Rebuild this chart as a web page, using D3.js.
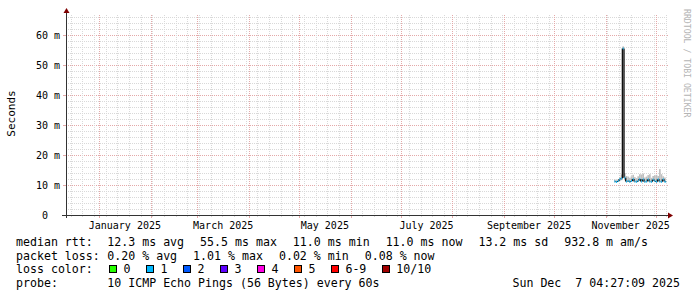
<!DOCTYPE html>
<html>
<head>
<meta charset="utf-8">
<script src="https://cdn.jsdelivr.net/npm/d3@7"></script>
<style>
body { margin: 0; background: #fff; }
text { font-family: "DejaVu Sans Mono", monospace; white-space: pre; }
</style>
</head>
<body>
<div id="chart"></div>
<script>
// ---- data (ms) ----
var firstDay = Date.UTC(2025, 10, 6);   // Nov 6 2025, one value per day
var medianRtt = [11.2, 11.0, 11.3, 11.9, 12.2, 55.5, 12.4, 11.2, 11.4, 11.1, 11.3, 12.0, 11.2, 11.1, 11.4, 12.0,
                 11.2, 11.9, 11.1, 11.2, 11.9, 11.2, 11.1, 11.8, 11.3, 11.1, 11.9, 11.2, 11.1, 11.9, 11.2, 11.0];
var smokeMin  = [10.9, 10.8, 11.0, 11.3, 11.6, 12.3, 11.6, 10.9, 11.0, 10.8, 11.0, 11.4, 10.9, 10.8, 11.0, 11.5,
                 10.9, 11.1, 10.8, 10.9, 11.4, 10.9, 10.8, 11.3, 11.0, 10.8, 11.3, 10.9, 10.8, 11.4, 10.9, 10.8];
var smokeMax  = [11.8, 11.6, 11.9, 12.6, 13.5, 56.2, 14.0, 13.0, 12.8, 12.4, 12.9, 13.4, 12.6, 12.3, 12.9, 13.6,
                 13.5, 13.8, 12.5, 12.8, 13.3, 13.6, 12.4, 13.0, 13.2, 13.4, 13.0, 15.3, 13.6, 12.9, 12.5, 12.2];

var yTicks = [0, 10, 20, 30, 40, 50, 60];
var labelMonths = [Date.UTC(2025, 0, 1), Date.UTC(2025, 2, 1), Date.UTC(2025, 4, 1),
                   Date.UTC(2025, 6, 1), Date.UTC(2025, 8, 1), Date.UTC(2025, 10, 1)];

var rttStats  = ["12.3 ms avg", "55.5 ms max", "11.0 ms min", "11.0 ms now", "13.2 ms sd", "932.8 m am/s"];
var lossStats = ["0.20 % avg", "1.01 % max", "0.02 % min", "0.08 % now"];
var lossLabels = ["0", "1", "2", "3", "4", "5", "6-9", "10/10"];
var lossColors = ["#26ff00", "#00b8ff", "#0059ff", "#5e00ff", "#ff00e4", "#ff5500", "#ff0000", "#a10000"];
var probeText = "10 ICMP Echo Pings (56 Bytes) every 60s";
var stampText = "Sun Dec  7 04:27:09 2025";

// ---- layout ----
var W = 697, H = 297;
var X0 = 66, X1 = 666, Y0 = 215, Y1 = 15;
var DAY = 864e5;
var tEnd = new Date(Date.UTC(2025, 11, 7, 4, 27, 9));
var tStart = new Date(+tEnd - 360 * DAY);

var x = d3.scaleUtc().domain([tStart, tEnd]).range([X0, X1]);
var y = d3.scaleLinear().domain([0, 200 / 3]).range([Y0, Y1]);

var gridCol = "#d9d9d9", mgridCol = "#e4a9a9", axisCol = "#333", arrowCol = "#7f0000";

var svg = d3.select("#chart").append("svg")
  .attr("width", W).attr("height", H)
  .style("display", "block");
svg.append("rect").attr("width", W).attr("height", H).attr("fill", "#fff");

var grid = svg.append("g").attr("shape-rendering", "crispEdges");

// horizontal grid: minor every 2 ms, major every 10 ms
var yMinor = d3.range(2, 67, 2).filter(function(v) { return v % 10 != 0; });
grid.selectAll(".hmin").data(yMinor).enter().append("line")
  .attr("x1", X0).attr("x2", X1)
  .attr("y1", function(d) { return Math.round(y(d)) + 0.5; })
  .attr("y2", function(d) { return Math.round(y(d)) + 0.5; })
  .attr("stroke", gridCol).attr("stroke-dasharray", "1,1");
grid.selectAll(".hmaj").data(yTicks.slice(1)).enter().append("line")
  .attr("x1", X0).attr("x2", X1)
  .attr("y1", function(d) { return Math.round(y(d)) + 0.5; })
  .attr("y2", function(d) { return Math.round(y(d)) + 0.5; })
  .attr("stroke", mgridCol).attr("stroke-dasharray", "1,1");
// little ticks at both ends
yTicks.slice(1).forEach(function(d) {
  var yy = Math.round(y(d)) + 0.5;
  grid.append("line").attr("x1", X0 - 3).attr("x2", X0).attr("y1", yy).attr("y2", yy).attr("stroke", mgridCol);
  grid.append("line").attr("x1", X1).attr("x2", X1 + 2).attr("y1", yy).attr("y2", yy).attr("stroke", mgridCol);
});

// vertical grid: weeks (Sunday) minor, months major
var months = d3.utcMonth.range(d3.utcMonth.ceil(tStart), tEnd);
var weeks = d3.utcSunday.range(d3.utcSunday.ceil(tStart), tEnd).filter(function(d) {
  return d.getUTCDate() != 1;
});
grid.selectAll(".vmin").data(weeks).enter().append("line")
  .attr("x1", function(d) { return Math.round(x(d)) + 0.5; })
  .attr("x2", function(d) { return Math.round(x(d)) + 0.5; })
  .attr("y1", Y1).attr("y2", Y0)
  .attr("stroke", gridCol).attr("stroke-dasharray", "1,1");
grid.selectAll(".vmaj").data(months).enter().append("line")
  .attr("x1", function(d) { return Math.round(x(d)) + 0.5; })
  .attr("x2", function(d) { return Math.round(x(d)) + 0.5; })
  .attr("y1", Y1).attr("y2", Y0)
  .attr("stroke", mgridCol).attr("stroke-dasharray", "1,1");
weeks.forEach(function(d) {
  var xx = Math.round(x(d)) + 0.5;
  grid.append("line").attr("x1", xx).attr("x2", xx).attr("y1", Y0).attr("y2", Y0 + 2).attr("stroke", gridCol);
});
months.forEach(function(d) {
  var xx = Math.round(x(d)) + 0.5;
  grid.append("line").attr("x1", xx).attr("x2", xx).attr("y1", Y0).attr("y2", Y0 + 3).attr("stroke", mgridCol);
});

// ---- data marks ----
var days = medianRtt.map(function(v, i) { return new Date(firstDay + i * DAY); });
function dayEnd(d) { return new Date(Math.min(+d + DAY, +tEnd)); }
var plot = svg.append("g");

// smoke
plot.selectAll(".smoke").data(days).enter().append("rect")
  .attr("x", function(d) { return x(d); })
  .attr("width", function(d) { return x(dayEnd(d)) - x(d); })
  .attr("y", function(d, i) { return y(smokeMax[i]); })
  .attr("height", function(d, i) { return y(smokeMin[i]) - y(smokeMax[i]); })
  .attr("fill", "#bfbfbf");

// median: black risers between days, loss-coloured steps on top
plot.selectAll(".riser").data(days.slice(1)).enter().append("line")
  .attr("x1", function(d) { return x(d); })
  .attr("x2", function(d) { return x(d); })
  .attr("y1", function(d, i) { return y(medianRtt[i]); })
  .attr("y2", function(d, i) { return y(medianRtt[i + 1]); })
  .attr("stroke", "#111").attr("stroke-width", 1.3);
plot.selectAll(".step").data(days).enter().append("line")
  .attr("x1", function(d) { return x(d) + 0.4; })
  .attr("x2", function(d) { return x(dayEnd(d)) - 0.4; })
  .attr("y1", function(d, i) { return y(medianRtt[i]); })
  .attr("y2", function(d, i) { return y(medianRtt[i]); })
  .attr("stroke", lossColors[1]).attr("stroke-width", 2);

// ---- axes ----
var ax = svg.append("g").attr("shape-rendering", "crispEdges");
ax.append("line").attr("x1", X0 - 4).attr("x2", X1 + 2).attr("y1", Y0 + 0.5).attr("y2", Y0 + 0.5).attr("stroke", axisCol);
ax.append("line").attr("x1", X0 + 0.5).attr("x2", X0 + 0.5).attr("y1", Y0 + 3).attr("y2", Y1 - 3).attr("stroke", axisCol);
svg.append("path").attr("d", "M" + (X1 + 2) + "," + (Y0 - 2.5) + "L" + (X1 + 7) + "," + (Y0 + 0.5) + "L" + (X1 + 2) + "," + (Y0 + 3.5) + "Z")
  .attr("fill", arrowCol);
svg.append("path").attr("d", "M" + (X0 - 2.5) + "," + (Y1 - 2) + "L" + (X0 + 0.5) + "," + (Y1 - 7) + "L" + (X0 + 3.5) + "," + (Y1 - 2) + "Z")
  .attr("fill", arrowCol);

// y labels
svg.selectAll(".ylab").data(yTicks).enter().append("text")
  .attr("x", 60).attr("y", function(d) { return y(d) + 3.5; })
  .attr("text-anchor", "end").attr("font-size", 10)
  .text(function(d) { return d == 0 ? "0  " : d + " m"; });

// x labels, centred on the middle of the month
var fmt = d3.utcFormat("%B %Y");
svg.selectAll(".xlab").data(labelMonths).enter().append("text")
  .attr("x", function(d) { var m = new Date(d); return (x(m) + x(d3.utcMonth.offset(m, 1))) / 2; })
  .attr("y", 228.5)
  .attr("text-anchor", "middle").attr("font-size", 10)
  .text(function(d) { return fmt(new Date(d)); });

svg.append("text")
  .attr("transform", "translate(14.5,113.5) rotate(-90)")
  .attr("text-anchor", "middle").attr("font-size", 11)
  .text("Seconds");

svg.append("text")
  .attr("transform", "translate(684,9) rotate(90)")
  .attr("font-size", 8.2).attr("fill", "#b4b4b4")
  .text("RRDTOOL / TOBI OETIKER");

// ---- legend ----
var FS = 11.6, GAP = 16;
var rowY = [246, 259.5, 273, 286.5];
var leg = svg.append("g").attr("font-size", FS).attr("fill", "#000");
leg.append("text").attr("x", 16).attr("y", rowY[0]).text("median rtt:");
leg.append("text").attr("x", 16).attr("y", rowY[1]).text("packet loss:");
leg.append("text").attr("x", 16).attr("y", rowY[2]).text("loss color:");
leg.append("text").attr("x", 16).attr("y", rowY[3]).text("probe:");

// gprint items flow left to right with a fixed gap
function gprintRow(items, yy) {
  var gx = 107.3;
  items.forEach(function(s) {
    var t = leg.append("text").attr("x", gx).attr("y", yy).text(s);
    gx += t.node().getComputedTextLength() + GAP;
  });
}
gprintRow(rttStats, rowY[0]);
gprintRow(lossStats, rowY[1]);

var sx = 109;
lossLabels.forEach(function(lab, i) {
  leg.append("rect").attr("x", sx + 0.5).attr("y", rowY[2] - 7.5).attr("width", 7).attr("height", 7)
    .attr("fill", lossColors[i]).attr("stroke", "#000").attr("shape-rendering", "crispEdges");
  var t = leg.append("text").attr("x", sx + 14.5).attr("y", rowY[2]).text(lab);
  sx += 14.5 + t.node().getComputedTextLength() + 15.5;
});

leg.append("text").attr("x", 107.3).attr("y", rowY[3]).text(probeText);
leg.append("text").attr("x", 680).attr("y", rowY[3]).attr("text-anchor", "end").text(stampText);
</script>
</body>
</html>
